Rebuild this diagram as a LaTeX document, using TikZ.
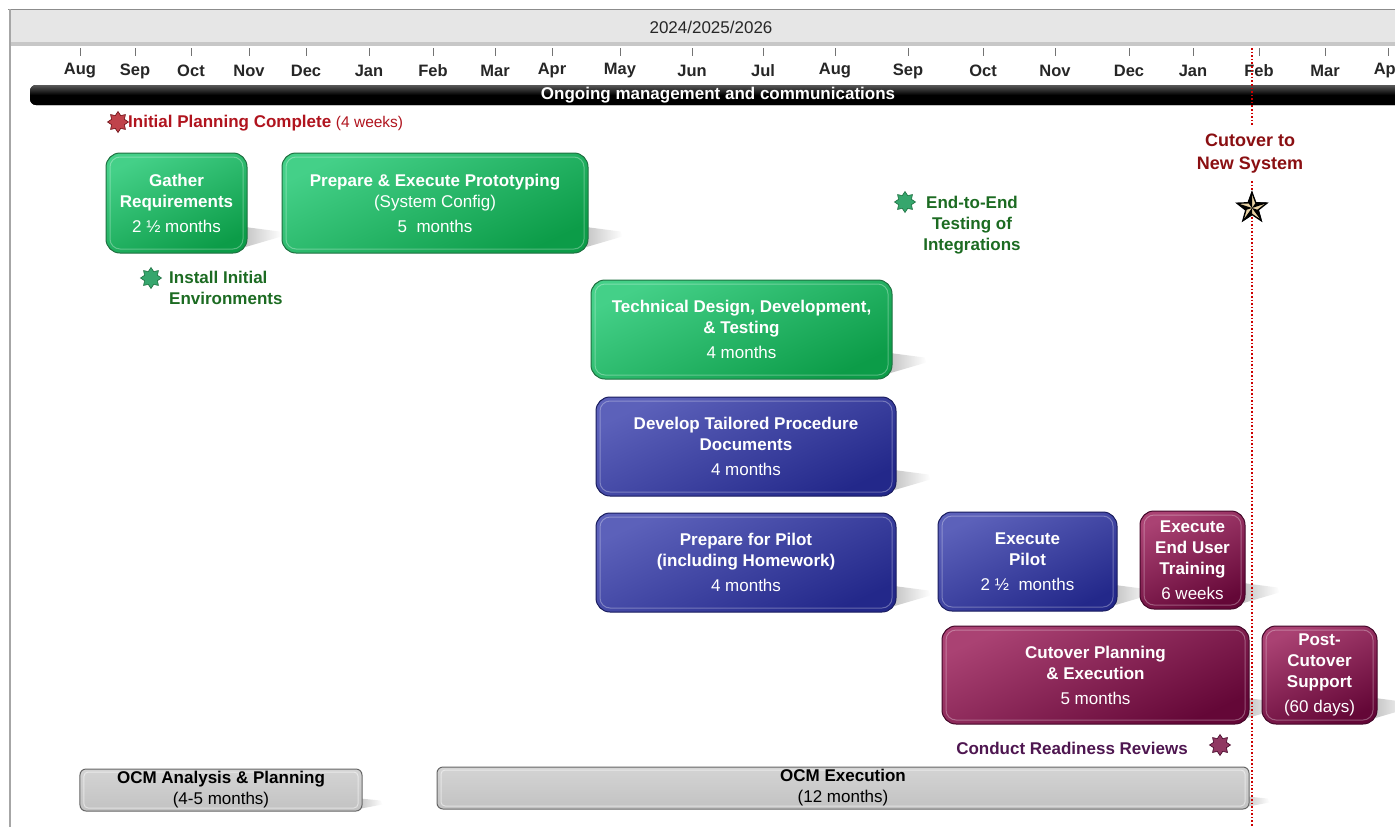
\documentclass[tikz,border=0pt]{standalone}
\usepackage{fontspec}
\setmainfont{Liberation Sans}
\usetikzlibrary{shapes.geometric,fadings,backgrounds}

\definecolor{greenhi}{HTML}{44D088}
\definecolor{greenlo}{HTML}{0C9C48}
\definecolor{greenline}{HTML}{1E7040}
\definecolor{bluehi}{HTML}{5C61BA}
\definecolor{bluelo}{HTML}{23288A}
\definecolor{blueline}{HTML}{191C5E}
\definecolor{maroonhi}{HTML}{AA4273}
\definecolor{maroonlo}{HTML}{640737}
\definecolor{maroonline}{HTML}{430628}
\definecolor{ocmhi}{HTML}{D4D4D4}
\definecolor{ocmlo}{HTML}{C2C2C2}
\definecolor{planred}{HTML}{B0141E}
\definecolor{envgreen}{HTML}{1C6B22}
\definecolor{cutred}{HTML}{8A0F12}
\definecolor{readypurple}{HTML}{4E1650}
\definecolor{startan}{HTML}{E8D2A4}
\definecolor{headgrey}{HTML}{E6E6E6}

\newcommand{\boxfont}{\fontsize{17bp}{21bp}\selectfont}
\newcommand{\smallfont}{\fontsize{15.5bp}{19bp}\selectfont}

\tikzset{
  phase/.style={rounded corners=14bp, draw, line width=1bp, text=white, align=center,
    inner sep=0pt, font=\boxfont,
    path picture={\draw[white, opacity=0.3, line width=1bp, rounded corners=10bp]
      ([shift={(4bp,4bp)}]path picture bounding box.south west) rectangle
      ([shift={(-4bp,-4bp)}]path picture bounding box.north east);}},
  greenphase/.style={phase, draw=greenline, top color=greenhi, bottom color=greenlo, shading angle=25},
  bluephase/.style={phase, draw=blueline, top color=bluehi, bottom color=bluelo, shading angle=25},
  maroonphase/.style={phase, draw=maroonline, top color=maroonhi, bottom color=maroonlo, shading angle=25},
  ocmbox/.style={rounded corners=6bp, draw=black!60, line width=1bp, top color=ocmhi, bottom color=ocmlo,
    text=black, align=center, inner sep=0pt, font=\boxfont,
    path picture={\draw[white, opacity=0.5, line width=1bp, rounded corners=4bp]
      ([shift={(4bp,3bp)}]path picture bounding box.south west) rectangle
      ([shift={(-4bp,-3bp)}]path picture bounding box.north east);}},
  burst/.style={star, star points=8, star point ratio=1.5, minimum size=21bp, inner sep=0pt, line width=0.6bp},
  milestone/.style={font=\boxfont\bfseries, inner sep=0pt},
  monthlabel/.style={font=\fontsize{16.5bp}{19bp}\selectfont\bfseries, text=black!85, inner sep=0pt},
  boxshadow/.style={fill=black!30, path fading=east}
}

\begin{document}
\begin{tikzpicture}[x=1bp, y=-1bp]
  \useasboundingbox (0,0) rectangle (1395,827);
  \clip (0,0) rectangle (1395,827);

  % timeline header
  \fill[headgrey] (10,10) rectangle (1400,43);
  \fill[black!22] (10,42) rectangle (1400,46);
  \draw[black!45, line width=1bp] (8,9) -- (1400,9);
  \draw[black!35, line width=1.5bp] (10,9) -- (10,827);
  \node[font=\fontsize{17bp}{20bp}\selectfont, text=black!85] (years) at (711,27) {2024/2025/2026};

  \foreach \x/\m [count=\i] in {80/Aug,135/Sep,191/Oct,249/Nov,306/Dec,369/Jan,433/Feb,495/Mar,552/Apr,620/May,
      692/Jun,763/Jul,835/Aug,908/Sep,983/Oct,1055/Nov,1129/Dec,1193/Jan,1259/Feb,1325/Mar,1388/Apr}
  {
    \draw[black!55, line width=0.8bp] (\x,48) -- (\x,56);
    \node[monthlabel] (m\i) at (\x,71) {\m};
  }

  % ongoing bar
  \fill[rounded corners=6bp, top color=black!65, bottom color=black, middle color=black]
    (30,85) rectangle (1410,105);
  \node[font=\fontsize{17bp}{19bp}\selectfont\bfseries, text=white, inner sep=0pt] (ongoing) at (718,95)
    {Ongoing management and communications};

  % cutover marker line
  \draw[red!80!black, dotted, line width=1.6bp] (1252,48) -- (1252,127);
  \draw[red!80!black, dotted, line width=1.6bp] (1252,181) -- (1252,827);

  % milestones
  \node[burst, fill=planred!80, draw=planred!60!black] (planstar) at (118,122) {};
  \node[anchor=west, text=planred, inner sep=0pt, font=\boxfont] (plandone) at (128,123)
    {\textbf{Initial Planning Complete} {\smallfont(4 weeks)}};

  \node[burst, fill=greenhi!80!black, draw=greenline] (envstar) at (151,278) {};
  \node[milestone, anchor=west, align=left, text=envgreen] (envs) at (169,288) {Install Initial\\Environments};

  \node[burst, fill=greenhi!80!black, draw=greenline] (e2estar) at (905,202) {};
  \node[milestone, align=center, text=envgreen] (e2e) at (972,225) {End-to-End\\Testing of\\Integrations};

  \node[milestone, align=center, text=cutred, font=\fontsize{18bp}{23bp}\selectfont\bfseries] (cutover) at (1250,154)
    {Cutover to\\New System};
  \node[star, star points=5, star point ratio=2.4, minimum size=31bp, inner sep=0pt, fill=startan,
    draw=black, line width=1.4bp] (cutstar) at (1252,208) {};
  \foreach \i in {1,...,5}
    \fill[black] (cutstar.center) -- (cutstar.outer point \i) -- (cutstar.inner point \i) -- cycle;

  \node[milestone, text=readypurple] (ready) at (1072,748) {Conduct Readiness Reviews};
  \node[burst, fill=maroonhi!85!black, draw=maroonline] (readystar) at (1220,745) {};

  % phases
  \node[greenphase, minimum width=141bp, minimum height=100bp] (gather) at (176.5,203)
    {\textbf{Gather}\\\textbf{Requirements}\\[4bp]2 ½ months};
  \node[greenphase, minimum width=306bp, minimum height=100bp] (proto) at (435,203)
    {\textbf{Prepare \& Execute Prototyping}\\(System Config)\\[4bp]5~ months};
  \node[greenphase, minimum width=301bp, minimum height=99bp] (techdes) at (741.5,329.5)
    {\textbf{Technical Design, Development,}\\\textbf{\& Testing}\\[4bp]4 months};
  \node[bluephase, minimum width=300bp, minimum height=99bp] (tailored) at (746,446.5)
    {\textbf{Develop Tailored Procedure}\\\textbf{Documents}\\[4bp]4 months};
  \node[bluephase, minimum width=300bp, minimum height=99bp] (preppilot) at (746,562.5)
    {\textbf{Prepare for Pilot}\\\textbf{(including Homework)}\\[4bp]4 months};
  \node[bluephase, minimum width=179bp, minimum height=99bp] (execpilot) at (1027.5,561.5)
    {\textbf{Execute}\\\textbf{Pilot}\\[4bp]2 ½~ months};
  \node[maroonphase, minimum width=105bp, minimum height=98bp] (training) at (1192.5,560)
    {\textbf{Execute}\\\textbf{End User}\\\textbf{Training}\\[4bp]6 weeks};
  \node[maroonphase, minimum width=307bp, minimum height=98bp] (cutplan) at (1095.5,675)
    {\textbf{Cutover Planning}\\\textbf{\& Execution}\\[4bp]5 months};
  \node[maroonphase, minimum width=115bp, minimum height=98bp] (postcut) at (1319.5,675)
    {\textbf{Post-}\\\textbf{Cutover}\\\textbf{Support}\\[4bp](60 days)};

  \node[ocmbox, minimum width=282bp, minimum height=42bp] (ocmplan) at (221,790)
    {\textbf{OCM Analysis \& Planning}\\(4-5 months)};
  \node[ocmbox, minimum width=812bp, minimum height=42bp] (ocmexec) at (843,788)
    {\textbf{OCM Execution}\\(12 months)};

  % shadows
  \begin{scope}[on background layer]
    \foreach \n in {gather,proto,techdes,tailored,preppilot,execpilot,training,cutplan,postcut}
      \fill[boxshadow, shift={(\n.south east)}] (-14,-28) -- (32,-22) -- (34,-17) -- (-14,-3) -- cycle;
    \foreach \n in {ocmplan,ocmexec}
      \fill[boxshadow, shift={(\n.south east)}] (-12,-14) -- (18,-11) -- (20,-7) -- (-12,-1) -- cycle;
  \end{scope}
\end{tikzpicture}
\end{document}
